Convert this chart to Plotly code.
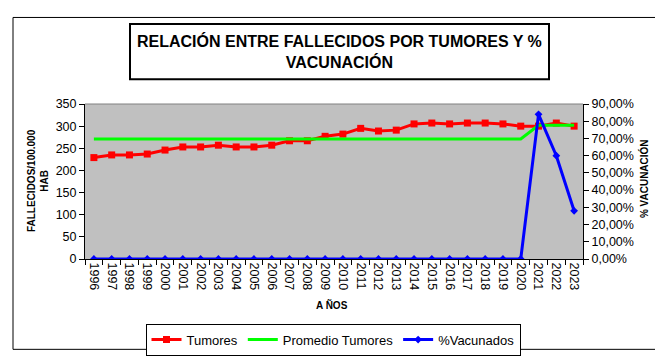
import plotly.graph_objects as go

years = [str(y) for y in range(1996, 2024)]
tumores = [229, 235, 235, 237, 246, 253, 253, 257, 253, 253, 257, 267, 267, 277,
           282, 295, 289, 291, 305, 307, 305, 307, 307, 305, 300, 300, 307, 300]
promedio = [271] * 25 + [302, 302, 302]
vacunados = [0] * 25 + [0.84, 0.60, 0.28]

W, H = 663, 360
L, R, T, B = 77, 575, 96, 259
pw, ph = R - L, B - T

def px(x):
    return (x - L) / pw

def py(y):
    return (B - y) / ph

fig = go.Figure()
fig.add_trace(go.Scatter(x=years, y=tumores, name="Tumores", mode="lines+markers",
                         line=dict(color="#FF0000", width=3),
                         marker=dict(symbol="square", size=7, color="#FF0000")))
fig.add_trace(go.Scatter(x=years, y=promedio, name="Promedio Tumores", mode="lines",
                         line=dict(color="#00FF00", width=3)))
fig.add_trace(go.Scatter(x=years, y=vacunados, name="%Vacunados", mode="lines+markers",
                         yaxis="y2",
                         line=dict(color="#0000FF", width=3),
                         marker=dict(symbol="diamond", size=6, color="#0000FF")))

font_family = "Arial, Liberation Sans, sans-serif"

fig.update_layout(
    width=W, height=H,
    margin=dict(l=L, r=W - R, t=T, b=H - B, pad=0),
    paper_bgcolor="white",
    plot_bgcolor="#C0C0C0",
    separators=",.",
    font=dict(family=font_family, color="black", size=12),
    showlegend=True,
    legend=dict(orientation="h", x=px(325), xanchor="center", y=py(327), yanchor="top",
                bordercolor="black", borderwidth=1, bgcolor="white",
                font=dict(size=13, color="black"), itemwidth=30,
                tracegroupgap=0),
    xaxis=dict(type="category", range=[-0.5, len(years) - 0.5], autorange=False,
               showgrid=False, zeroline=False,
               showline=True, linecolor="black", linewidth=1,
               ticks="outside", ticklen=5, tickcolor="black", tickson="boundaries",
               tickangle=90, tickfont=dict(size=12.5, color="black")),
    yaxis=dict(range=[0, 350], dtick=50, showgrid=False, zeroline=False,
               showline=True, linecolor="black", linewidth=1,
               ticks="outside", ticklen=5, tickcolor="black",
               tickfont=dict(size=12.5, color="black")),
    yaxis2=dict(range=[0, 0.9], dtick=0.1, tickformat=".2%", overlaying="y", side="right",
                showgrid=False, zeroline=False,
                showline=True, linecolor="black", linewidth=1,
                ticks="outside", ticklen=5, tickcolor="black",
                tickfont=dict(size=12.5, color="black")),
)

shapes = [
    dict(type="rect", xref="paper", yref="paper", x0=px(5), x1=px(656), y0=py(354), y1=py(5),
         line=dict(color="black", width=1), fillcolor="rgba(0,0,0,0)", layer="below"),
    dict(type="rect", xref="paper", yref="paper", x0=px(122), x1=px(541), y0=py(70), y1=py(12),
         line=dict(color="black", width=2), fillcolor="white"),
    dict(type="line", xref="paper", yref="paper", x0=0, x1=1, y0=1, y1=1,
         line=dict(color="#808080", width=1)),
]
fig.update_layout(shapes=shapes)

annotations = [
    dict(text="<b>RELACIÓN ENTRE FALLECIDOS POR TUMORES Y %<br>VACUNACIÓN</b>",
         xref="paper", yref="paper", x=px(331.5), y=py(41), xanchor="center", yanchor="middle",
         showarrow=False, font=dict(size=16, color="black", family=font_family)),
    dict(text="<b>FALLECIDOS/100.000<br>HAB</b>", xref="paper", yref="paper",
         x=px(30), y=py(177), xanchor="center", yanchor="middle", textangle=-90,
         showarrow=False, font=dict(size=10, color="black")),
    dict(text="<b>% VACUNACIÓN</b>", xref="paper", yref="paper",
         x=px(636), y=py(175), xanchor="center", yanchor="middle", textangle=-90,
         showarrow=False, font=dict(size=10, color="black")),
    dict(text="<b>A ÑOS</b>", xref="paper", yref="paper",
         x=px(324), y=py(307), xanchor="center", yanchor="middle",
         showarrow=False, font=dict(size=10, color="black")),
]
fig.update_layout(annotations=annotations)

fig.write_html("out.html")
